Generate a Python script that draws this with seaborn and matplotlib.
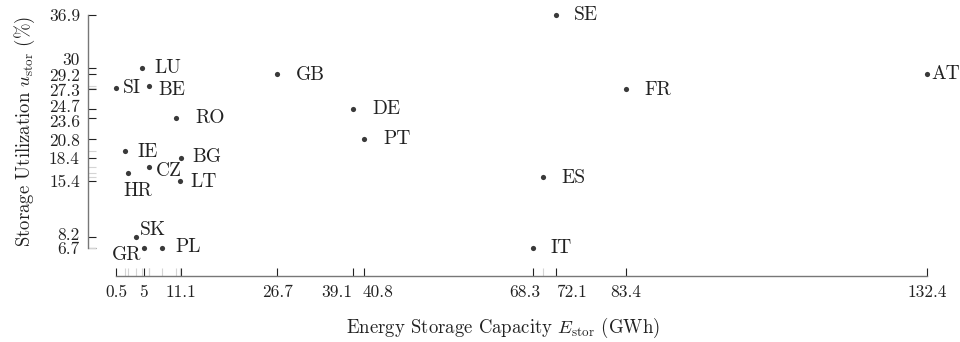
import numpy as np
import pandas as pd
import matplotlib.pyplot as plt
import seaborn as sns
from matplotlib.transforms import ScaledTranslation

# ------------------------------------------------------------------
# data
# ------------------------------------------------------------------
countries = ["SE", "AT", "GB", "FR", "DE", "PT", "LU", "SI", "BE", "RO",
             "IE", "BG", "CZ", "HR", "LT", "ES", "SK", "GR", "PL", "IT"]
capacity = [72.1, 132.4, 26.7, 83.4, 39.1, 40.8, 4.7, 0.5, 5.8, 10.3,
            1.9, 11.1, 5.8, 2.4, 10.9, 70.0, 3.7, 5.0, 8.0, 68.3]
utilization = [36.9, 29.2, 29.2, 27.3, 24.7, 20.8, 30.0, 27.5, 27.7, 23.6,
               19.3, 18.4, 17.2, 16.5, 15.4, 15.9, 8.2, 6.7, 6.8, 6.7]

x_ticks = [0.5, 5, 11.1, 26.7, 39.1, 40.8, 68.3, 72.1, 83.4, 132.4]
x_tick_labels = ["0.5", "5", "11.1", "26.7", "39.1", "40.8", "68.3", "72.1", "83.4", "132.4"]
y_ticks = [6.7, 8.2, 15.4, 18.4, 20.8, 23.6, 24.7, 27.3, 29.2, 30, 36.9]
y_tick_labels = ["6.7", "8.2", "15.4", "18.4", "20.8", "23.6", "24.7", "27.3", "29.2", "30", "36.9"]

# label placement (pixels, right / up)
label_offsets = {
    "SE": (18, 0), "AT": (4, 0), "GB": (19, -1), "FR": (19, -1), "DE": (19, 0),
    "PT": (20, 0), "LU": (13, 0), "SI": (7, 0), "BE": (10, -4), "RO": (19, 0),
    "IE": (13, -1), "BG": (11, 1), "CZ": (7, -4), "HR": (-4, -18), "LT": (10, -1),
    "ES": (18, -1), "SK": (4, 7), "GR": (-32, -7), "PL": (13, 0), "IT": (18, 0),
}
# tick label nudges to avoid overlaps (pixels)
x_label_shift = {"39.1": -17, "40.8": 14, "68.3": -8, "72.1": 15}
y_label_shift = {"30": 9, "27.3": -1, "24.7": 3, "23.6": -3, "8.2": 3}

df = pd.DataFrame({"country": countries, "capacity": capacity, "utilization": utilization})

# ------------------------------------------------------------------
# style
# ------------------------------------------------------------------
sns.set_theme(style="ticks")
plt.rcParams["font.family"] = "serif"
plt.rcParams["font.serif"] = ["cmr10", "DejaVu Serif"]
plt.rcParams["mathtext.fontset"] = "cm"
plt.rcParams["axes.formatter.use_mathtext"] = True

text_color = "#222222"

fig = plt.figure(figsize=(9.6, 3.42), dpi=100)
ax = fig.add_axes([116 / 960, 1 - 248.3 / 342, 811 / 960, 233.3 / 342])

sns.scatterplot(data=df, x="capacity", y="utilization", ax=ax, color="#3a3a3a",
                s=14, linewidth=0, clip_on=False, zorder=3)

for c, x, y in zip(countries, capacity, utilization):
    dx, dy = label_offsets[c]
    ax.annotate(c, (x, y), xytext=(dx, dy), textcoords="offset pixels",
                ha="left", va="center", fontsize=14, color=text_color)

ax.set_xlim(0.5, 132.4)
ax.set_ylim(6.7, 36.9)

ax.set_xticks(x_ticks)
ax.set_xticklabels(x_tick_labels)
ax.set_yticks(y_ticks)
ax.set_yticklabels(y_tick_labels)
# rug-like light ticks at every data value
ax.set_xticks(capacity, minor=True)
ax.set_yticks(utilization, minor=True)

ax.tick_params(which="major", direction="in", length=5.5, width=0.8,
               color="#222222", labelsize=12.5, labelcolor=text_color, pad=6)
ax.tick_params(which="minor", direction="in", length=5.5, width=0.8, color="#d4d4d4")

for side in ["top", "right"]:
    ax.spines[side].set_visible(False)
for side in ["left", "bottom"]:
    ax.spines[side].set_position(("outward", 20))
    ax.spines[side].set_color("#777777")
    ax.spines[side].set_linewidth(1.0)
ax.spines["bottom"].set_bounds(0.5, 132.4)
ax.spines["left"].set_bounds(6.7, 36.9)

ax.set_xlabel(r"Energy Storage Capacity $E_{\mathrm{stor}}$ (GWh)", fontsize=13.5, color=text_color)
ax.set_ylabel(r"Storage Utilization $u_{\mathrm{stor}}$ (%)", fontsize=13.5, color=text_color)
ax.xaxis.set_label_coords(0.477, -0.29)
ax.yaxis.set_label_coords(-0.098, 0.5)
ax.grid(False)

fig.canvas.draw()
for lbl in ax.get_xticklabels():
    s = x_label_shift.get(lbl.get_text(), 0)
    if s:
        lbl.set_transform(lbl.get_transform() + ScaledTranslation(s / 100, 0, fig.dpi_scale_trans))
for lbl in ax.get_yticklabels():
    s = y_label_shift.get(lbl.get_text(), 0)
    if s:
        lbl.set_transform(lbl.get_transform() + ScaledTranslation(0, s / 100, fig.dpi_scale_trans))

fig.savefig("out.png", dpi=100)
